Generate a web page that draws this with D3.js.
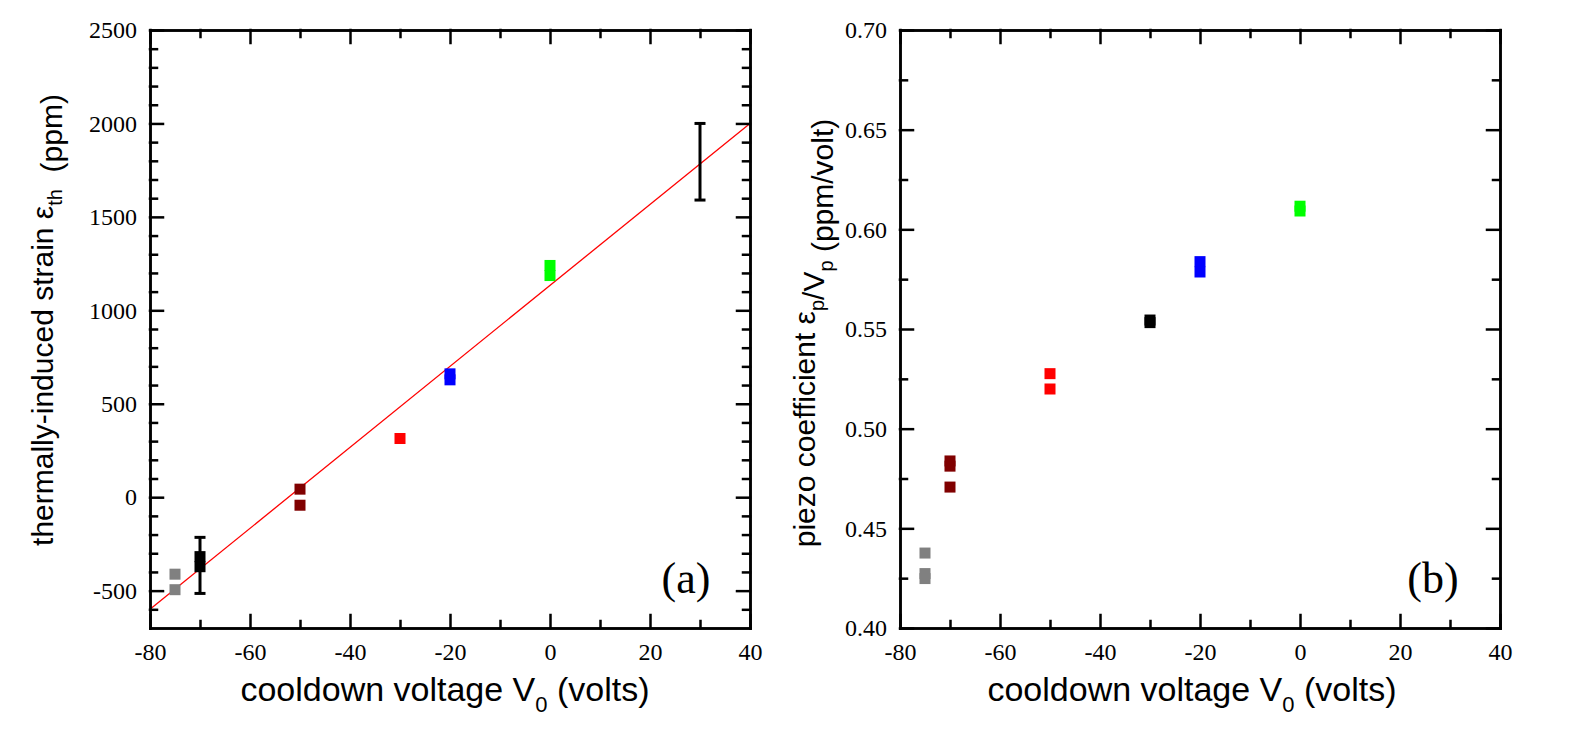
<!DOCTYPE html>
<html>
<head>
<meta charset="utf-8">
<script src="https://cdn.jsdelivr.net/npm/d3@7/dist/d3.min.js"></script>
<style>
  body { margin: 0; background: #fff; }
  .axis path, .axis line { stroke: #000; stroke-width: 2.5; stroke-linecap: square; }
  .axis text { font-family: "Liberation Serif", serif; font-size: 24px; fill: #000; }
  .title { font-family: "Liberation Sans", Arial, sans-serif; fill: #000; white-space: pre; }
  .tag { font-family: "Liberation Serif", serif; font-size: 44px; fill: #000; }
</style>
</head>
<body>
<svg id="chart"></svg>
<script>
// samples (each colour = one cooldown run)
const samples = ["s1", "s2", "s3", "s4", "s5", "s6"];

// panel (a): thermally-induced strain vs cooldown voltage
const strainSample = ["s1", "s1", "s2", "s2", "s3", "s3", "s4", "s5", "s5", "s6", "s6"];
const strainV0 = [-75, -75, -70, -70, -50, -50, -30, -20, -20, 0, 0];
const strainPpm = [-412, -495, -318, -372, 43, -43, 314, 660, 628, 1240, 1186];

// error bars in panel (a)
const errV0 = [-70, 30];
const errLow = [-515, 1590];
const errHigh = [-215, 2000];

// linear fit in panel (a)
const fitV0 = [-80, 40];
const fitPpm = [-600, 2000];

// panel (b): piezo coefficient vs cooldown voltage
const piezoSample = ["s1", "s1", "s1", "s3", "s3", "s3", "s4", "s4", "s2", "s2", "s5", "s5", "s6", "s6"];
const piezoV0 = [-75, -75, -75, -70, -70, -70, -50, -50, -30, -30, -20, -20, 0, 0];
const piezoCoef = [0.4376, 0.4273, 0.4248, 0.4838, 0.4812, 0.4707, 0.5276, 0.5199, 0.5545, 0.5532, 0.5838, 0.5786, 0.6116, 0.6092];

// ticks
const xMajor = [-80, -60, -40, -20, 0, 20, 40];
const xMinor = [-70, -50, -30, -10, 10, 30];
const strainMajor = [-500, 0, 500, 1000, 1500, 2000, 2500];
const strainMinor = d3.range(-600, 2500, 100).filter(v => v % 500 !== 0);
const piezoMajor = [0.40, 0.45, 0.50, 0.55, 0.60, 0.65, 0.70];
const piezoMinor = [0.425, 0.475, 0.525, 0.575, 0.625, 0.675];

const width = 1575, height = 750;

const svg = d3.select("#chart")
    .attr("width", width)
    .attr("height", height);

svg.append("rect").attr("width", width).attr("height", height).attr("fill", "#fff");

const color = d3.scaleOrdinal()
    .domain(samples)
    .range(["#808080", "#000000", "#800000", "#ff0000", "#0000ff", "#00ff00"]);

const markerSize = 11;

// left panel scales
const xA = d3.scaleLinear().domain([-80, 40]).range([150, 750]);
const yA = d3.scaleLinear().domain([-700, 2500]).range([628, 30]);

// right panel scales
const xB = d3.scaleLinear().domain([-80, 40]).range([900, 1500]);
const yB = d3.scaleLinear().domain([0.40, 0.70]).range([628, 30]);

function drawFrame(x, y, yMajor, yMinor, yFmt) {
    const g = svg.append("g");
    const [yBot, yTop] = y.range();
    const [xLeft, xRight] = x.range();

    // bottom axis with labels
    g.append("g").attr("class", "axis")
        .attr("transform", `translate(0,${yBot})`)
        .call(d3.axisBottom(x).tickValues(xMajor).tickSizeInner(-13).tickSizeOuter(0)
            .tickPadding(15).tickFormat(d => d));
    g.append("g").attr("class", "axis")
        .attr("transform", `translate(0,${yBot})`)
        .call(d3.axisBottom(x).tickValues(xMinor).tickSizeInner(-7).tickSizeOuter(0).tickFormat(""));

    // top axis, no labels
    g.append("g").attr("class", "axis")
        .attr("transform", `translate(0,${yTop})`)
        .call(d3.axisTop(x).tickValues(xMajor).tickSizeInner(-13).tickSizeOuter(0).tickFormat(""));
    g.append("g").attr("class", "axis")
        .attr("transform", `translate(0,${yTop})`)
        .call(d3.axisTop(x).tickValues(xMinor).tickSizeInner(-7).tickSizeOuter(0).tickFormat(""));

    // left axis with labels
    g.append("g").attr("class", "axis")
        .attr("transform", `translate(${xLeft},0)`)
        .call(d3.axisLeft(y).tickValues(yMajor).tickSizeInner(-13).tickSizeOuter(0)
            .tickPadding(13).tickFormat(yFmt));
    g.append("g").attr("class", "axis")
        .attr("transform", `translate(${xLeft},0)`)
        .call(d3.axisLeft(y).tickValues(yMinor).tickSizeInner(-7).tickSizeOuter(0).tickFormat(""));

    // right axis, no labels
    g.append("g").attr("class", "axis")
        .attr("transform", `translate(${xRight},0)`)
        .call(d3.axisRight(y).tickValues(yMajor).tickSizeInner(-13).tickSizeOuter(0).tickFormat(""));
    g.append("g").attr("class", "axis")
        .attr("transform", `translate(${xRight},0)`)
        .call(d3.axisRight(y).tickValues(yMinor).tickSizeInner(-7).tickSizeOuter(0).tickFormat(""));

    return g;
}

function xTitle(cx) {
    const t = svg.append("text").attr("class", "title")
        .attr("x", cx).attr("y", 701)
        .attr("text-anchor", "middle")
        .style("font-size", "34px");
    t.append("tspan").text("cooldown voltage V");
    t.append("tspan").attr("dy", 11).style("font-size", "22px").text("0");
    t.append("tspan").attr("dy", -11).text(" (volts)");
}

function yTitle(bx, cy, parts) {
    const t = svg.append("text").attr("class", "title")
        .attr("transform", `translate(${bx},${cy}) rotate(-90)`)
        .attr("text-anchor", "middle")
        .style("font-size", "30px");
    parts.forEach(p => {
        if (p.sub) {
            t.append("tspan").attr("dy", 9).style("font-size", "20px").text(p.sub);
            t.append("tspan").attr("dy", -9).text("");
        } else {
            t.append("tspan").text(p.text);
        }
    });
}

// ---------- panel (a) ----------
svg.append("path")
    .datum(d3.zip(fitV0, fitPpm))
    .attr("d", d3.line().x(d => xA(d[0])).y(d => yA(d[1])))
    .attr("fill", "none")
    .attr("stroke", "#ff0000")
    .attr("stroke-width", 1.3);

svg.append("g").selectAll("rect")
    .data(d3.range(strainV0.length))
    .enter().append("rect")
    .attr("x", i => xA(strainV0[i]) - markerSize / 2)
    .attr("y", i => yA(strainPpm[i]) - markerSize / 2)
    .attr("width", markerSize)
    .attr("height", markerSize)
    .attr("fill", i => color(strainSample[i]));

const errG = svg.append("g")
    .attr("stroke", "#000")
    .attr("stroke-width", 3);
d3.range(errV0.length).forEach(i => {
    const xe = xA(errV0[i]);
    errG.append("line").attr("x1", xe).attr("x2", xe).attr("y1", yA(errLow[i])).attr("y2", yA(errHigh[i]));
    errG.append("line").attr("x1", xe - 5.5).attr("x2", xe + 5.5).attr("y1", yA(errLow[i])).attr("y2", yA(errLow[i]));
    errG.append("line").attr("x1", xe - 5.5).attr("x2", xe + 5.5).attr("y1", yA(errHigh[i])).attr("y2", yA(errHigh[i]));
});

drawFrame(xA, yA, strainMajor, strainMinor, d => d);

// ---------- panel (b) ----------
svg.append("g").selectAll("rect")
    .data(d3.range(piezoV0.length))
    .enter().append("rect")
    .attr("x", i => xB(piezoV0[i]) - markerSize / 2)
    .attr("y", i => yB(piezoCoef[i]) - markerSize / 2)
    .attr("width", markerSize)
    .attr("height", markerSize)
    .attr("fill", i => color(piezoSample[i]));

drawFrame(xB, yB, piezoMajor, piezoMinor, d3.format(".2f"));

// titles
xTitle(445);
xTitle(1192);
yTitle(53, 320, [{ text: "thermally-induced strain \u03b5" }, { sub: "th" }, { text: "  (ppm)" }]);
yTitle(815, 333, [{ text: "piezo coefficient \u03b5" }, { sub: "p" }, { text: "/V" }, { sub: "p" }, { text: " (ppm/volt)" }]);

// panel tags
svg.append("text").attr("class", "tag").attr("x", 686).attr("y", 593).attr("text-anchor", "middle").text("(a)");
svg.append("text").attr("class", "tag").attr("x", 1433).attr("y", 593).attr("text-anchor", "middle").text("(b)");
</script>
</body>
</html>
